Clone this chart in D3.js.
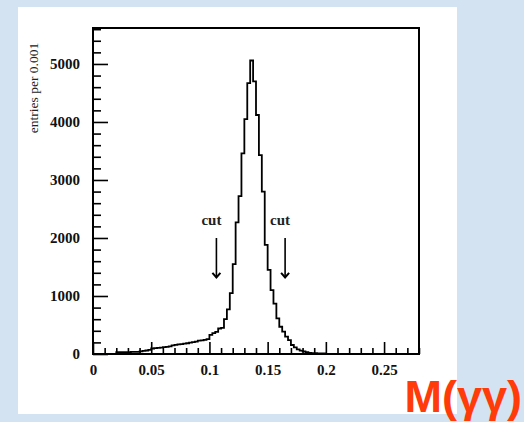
<!DOCTYPE html>
<html>
<head>
<meta charset="utf-8">
<script src="https://cdn.jsdelivr.net/npm/d3@7"></script>
<style>
  body { margin: 0; background: #d3e3f2; }
  svg { display: block; }
</style>
</head>
<body>
<div id="chart"></div>
<script>
// histogram of M(gg), bins of 0.0025 from 0.02 to 0.20
const binStart = 0.02;
const binWidth = 0.0025;
const counts = [
  30, 30, 30, 30, 32, 35, 35, 38, 45, 55,
  60, 70, 95, 100, 105, 110, 118, 122, 130, 150,
  158, 165, 170, 178, 185, 195, 205, 215, 230, 235,
  245, 255, 330, 360, 380, 440, 450, 600, 770, 1050,
  1550, 2270, 2720, 3460, 4050, 4670, 5060, 4700, 4120, 3430,
  2800, 1880, 1450, 1100, 870, 615, 470, 385, 300, 240,
  155, 115, 80, 57, 45, 34, 17, 15, 15, 12,
  12, 10
];
const xMajorTicks = [0, 0.05, 0.1, 0.15, 0.2, 0.25];
const xTickLabels = ["0", "0.05", "0.1", "0.15", "0.2", "0.25"];
const yMajorTicks = [0, 1000, 2000, 3000, 4000, 5000];
const cutPositions = [0.106, 0.165];
const cutLabel = "cut";

const W = 524, H = 422;
const svg = d3.select("#chart").append("svg")
    .attr("width", W)
    .attr("height", H);

// white panel
svg.append("rect")
    .attr("x", 18).attr("y", 7)
    .attr("width", 439).attr("height", 407)
    .attr("fill", "#ffffff");

const frame = {left: 93, top: 28, right: 419, bottom: 354};

const x = d3.scaleLinear().domain([0, 0.28]).range([frame.left, frame.right]);
const y = d3.scaleLinear().domain([0, 5620]).range([frame.bottom, frame.top]);

const serif = "'Liberation Serif', 'DejaVu Serif', serif";

// minor ticks x
const xMinor = d3.range(0, 0.2801, 0.01).filter(v => !xMajorTicks.some(m => Math.abs(m - v) < 1e-6));
svg.append("g")
    .attr("transform", `translate(0,${frame.bottom})`)
    .call(d3.axisBottom(x).tickValues(xMinor).tickSize(-6).tickFormat(""))
    .call(g => g.select(".domain").remove())
    .call(g => g.selectAll("line").attr("stroke", "#000").attr("stroke-width", 1.6));

svg.append("g")
    .attr("transform", `translate(0,${frame.bottom})`)
    .call(d3.axisBottom(x).tickValues(xMajorTicks).tickSize(-12).tickPadding(18)
        .tickFormat((d, i) => xTickLabels[i]))
    .call(g => g.select(".domain").remove())
    .call(g => g.selectAll("line").attr("stroke", "#000").attr("stroke-width", 1.6))
    .call(g => g.selectAll("text")
        .attr("font-family", serif).attr("font-weight", "bold")
        .attr("font-size", 15).attr("fill", "#111")
        .attr("y", 10));

// y ticks
const yMinor = d3.range(0, 5601, 200).filter(v => v % 1000 !== 0);
svg.append("g")
    .attr("transform", `translate(${frame.left},0)`)
    .call(d3.axisLeft(y).tickValues(yMinor).tickSize(-8).tickFormat(""))
    .call(g => g.select(".domain").remove())
    .call(g => g.selectAll("line").attr("stroke", "#000").attr("stroke-width", 1.6));

svg.append("g")
    .attr("transform", `translate(${frame.left},0)`)
    .call(d3.axisLeft(y).tickValues(yMajorTicks).tickSize(-15).tickFormat(d3.format("d")))
    .call(g => g.select(".domain").remove())
    .call(g => g.selectAll("line").attr("stroke", "#000").attr("stroke-width", 1.6))
    .call(g => g.selectAll("text")
        .attr("x", -13)
        .attr("font-family", serif).attr("font-weight", "bold")
        .attr("font-size", 15).attr("fill", "#111"));

// frame
svg.append("rect")
    .attr("x", frame.left).attr("y", frame.top)
    .attr("width", frame.right - frame.left).attr("height", frame.bottom - frame.top)
    .attr("fill", "none").attr("stroke", "#000").attr("stroke-width", 2);

// histogram step line
const pts = [];
counts.forEach((c, i) => {
    const x0 = binStart + i * binWidth;
    pts.push([x0, c], [x0 + binWidth, c]);
});
pts.unshift([binStart, 0]);
pts.push([binStart + counts.length * binWidth, 0]);

svg.append("path")
    .datum(pts)
    .attr("d", d3.line().x(d => x(d[0])).y(d => y(d[1])))
    .attr("fill", "none")
    .attr("stroke", "#000")
    .attr("stroke-width", 1.8)
    .attr("stroke-linejoin", "miter");

// cut arrows
cutPositions.forEach(c => {
    const cx = x(c);
    svg.append("text")
        .attr("x", cx - 5).attr("y", y(2220))
        .attr("text-anchor", "middle")
        .attr("font-family", serif).attr("font-weight", "bold")
        .attr("font-size", 15).attr("fill", "#222")
        .text(cutLabel);
    svg.append("line")
        .attr("x1", cx).attr("x2", cx)
        .attr("y1", y(2000)).attr("y2", y(1320))
        .attr("stroke", "#000").attr("stroke-width", 1.6);
    svg.append("path")
        .attr("d", `M${cx - 4},${y(1400)} L${cx},${y(1320)} L${cx + 4},${y(1400)}`)
        .attr("fill", "none").attr("stroke", "#000").attr("stroke-width", 2);
});

// y axis title
svg.append("text")
    .attr("transform", `translate(38,88) rotate(-90)`)
    .attr("text-anchor", "middle")
    .attr("font-family", serif)
    .attr("font-size", 13.5).attr("fill", "#222")
    .text("entries per 0.001");

// x axis title
svg.append("text")
    .attr("x", 522).attr("y", 412)
    .attr("text-anchor", "end")
    .attr("font-family", "'Liberation Sans', Arial, sans-serif")
    .attr("font-weight", "bold")
    .attr("font-size", 45)
    .attr("fill", "#ff3b0a")
    .text("M(γγ)");
</script>
</body>
</html>
